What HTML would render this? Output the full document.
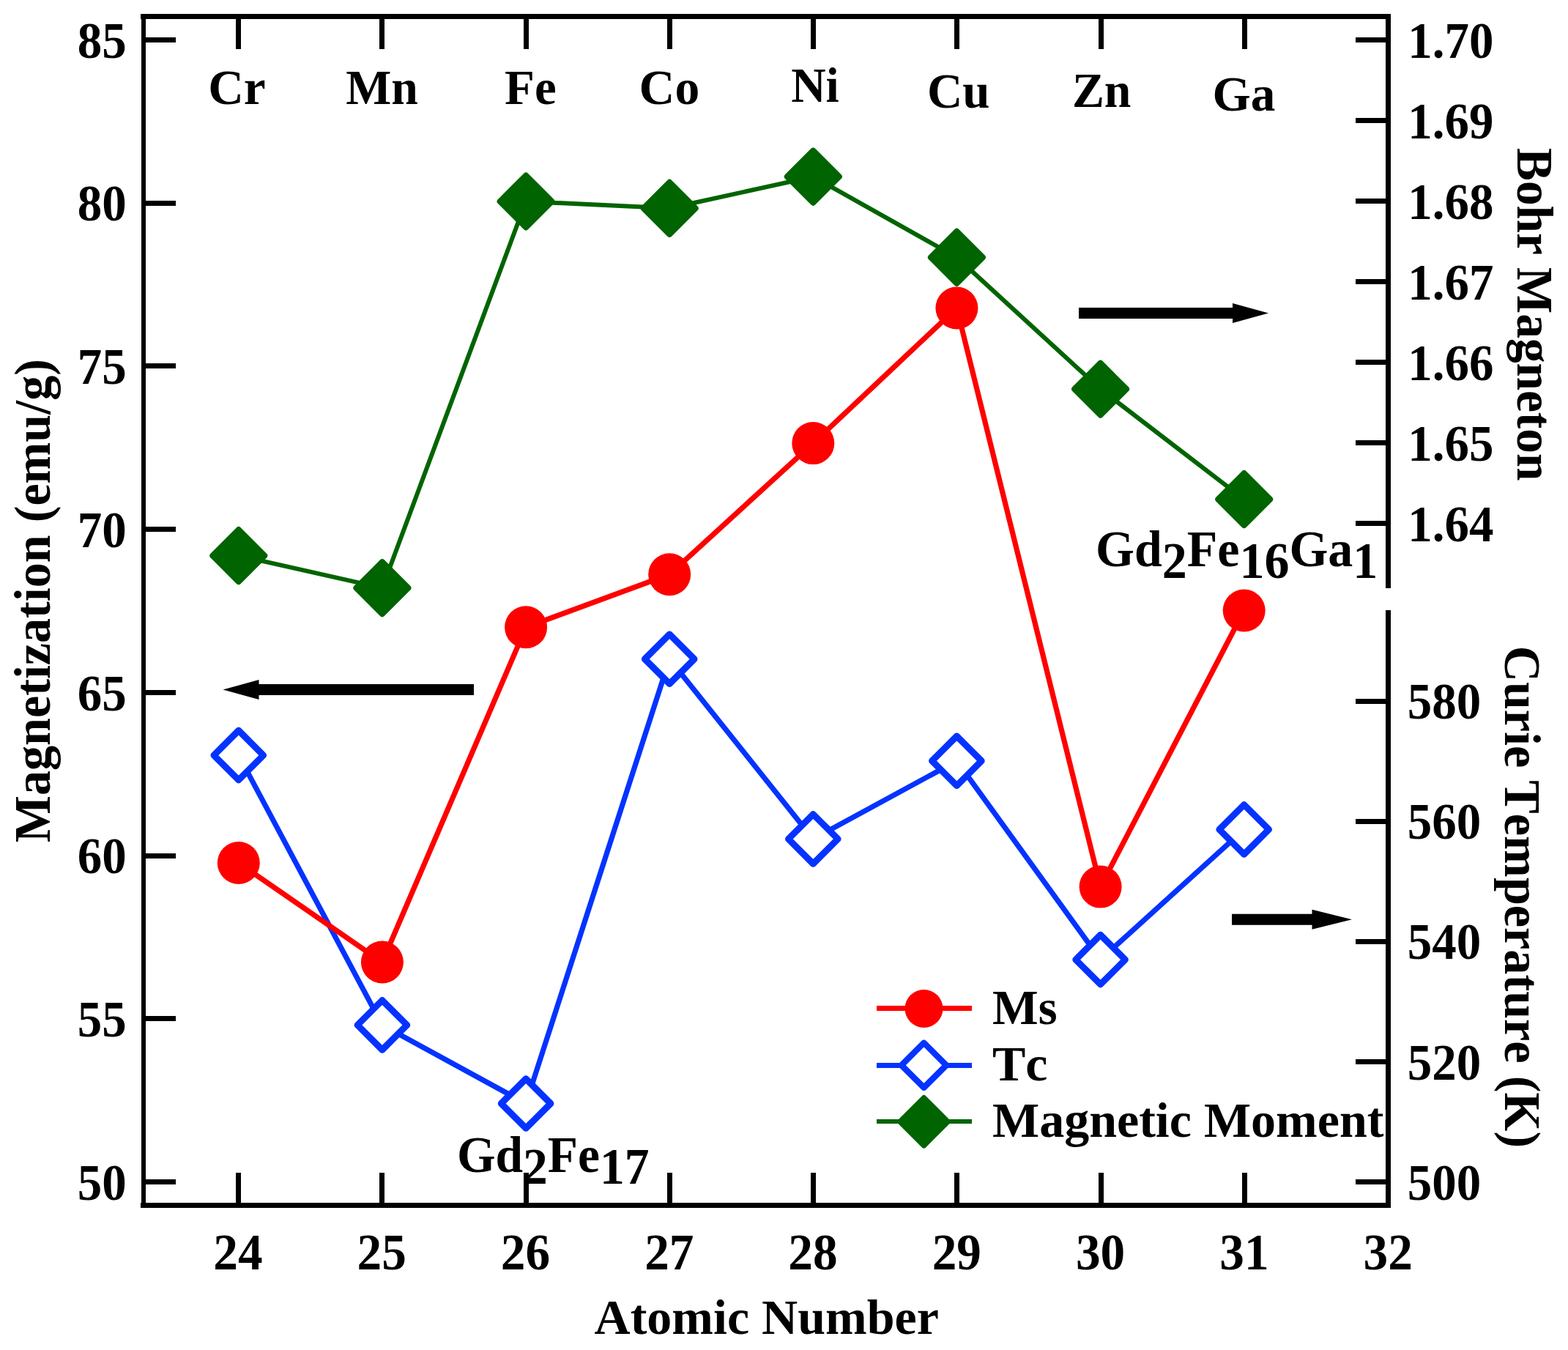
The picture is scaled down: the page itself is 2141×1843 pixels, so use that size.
<!DOCTYPE html>
<html lang="en">
<head>
<meta charset="utf-8">
<title>Magnetization, Curie Temperature and Magnetic Moment vs Atomic Number</title>
<style>
html,body{margin:0;padding:0;background:#ffffff;}
body{width:2141px;height:1843px;overflow:hidden;}
svg{display:block;}
text{white-space:pre;font-kerning:none;}
</style>
</head>
<body>
<svg width="2141" height="1843" viewBox="0 0 2141 1843" font-family="'Liberation Serif', 'Times New Roman', serif" font-weight="bold" font-size="68px">
<rect x="0" y="0" width="2141" height="1843" fill="#ffffff"/>
<g fill="none" stroke-linejoin="round">
<polyline points="325.8,758.6 521.9,802.7 718.1,275.0 914.2,284.3 1110.3,241.2 1306.4,351.3 1502.6,531.2 1698.7,681.6" stroke="#006400" stroke-width="6"/>
<polyline points="325.8,1031.1 521.9,1399.4 718.1,1506.5 914.2,899.7 1110.3,1145.4 1306.4,1038.8 1502.6,1310.1 1698.7,1132.4" stroke="#0433ff" stroke-width="7.2"/>
<polyline points="325.8,1178.0 521.9,1313.5 718.1,856.3 914.2,784.2 1110.3,605.1 1306.4,420.5 1502.6,1210.6 1698.7,833.5" stroke="#ff0000" stroke-width="7.2"/>
</g>
<g>
<path d="M290.3,758.6 L325.8,723.1 L361.3,758.6 L325.8,794.1 Z" fill="#006400" stroke="#006400" stroke-width="8" stroke-linejoin="round"/>
<path d="M486.4,802.7 L521.9,767.2 L557.4,802.7 L521.9,838.2 Z" fill="#006400" stroke="#006400" stroke-width="8" stroke-linejoin="round"/>
<path d="M682.6,275.0 L718.1,239.5 L753.6,275.0 L718.1,310.5 Z" fill="#006400" stroke="#006400" stroke-width="8" stroke-linejoin="round"/>
<path d="M878.7,284.3 L914.2,248.8 L949.7,284.3 L914.2,319.8 Z" fill="#006400" stroke="#006400" stroke-width="8" stroke-linejoin="round"/>
<path d="M1074.8,241.2 L1110.3,205.7 L1145.8,241.2 L1110.3,276.7 Z" fill="#006400" stroke="#006400" stroke-width="8" stroke-linejoin="round"/>
<path d="M1270.9,351.3 L1306.4,315.8 L1341.9,351.3 L1306.4,386.8 Z" fill="#006400" stroke="#006400" stroke-width="8" stroke-linejoin="round"/>
<path d="M1467.1,531.2 L1502.6,495.7 L1538.1,531.2 L1502.6,566.7 Z" fill="#006400" stroke="#006400" stroke-width="8" stroke-linejoin="round"/>
<path d="M1663.2,681.6 L1698.7,646.1 L1734.2,681.6 L1698.7,717.1 Z" fill="#006400" stroke="#006400" stroke-width="8" stroke-linejoin="round"/>
<path d="M292.0,1031.1 L325.8,997.3 L359.6,1031.1 L325.8,1064.9 Z" fill="#ffffff" stroke="#0433ff" stroke-width="9" stroke-linejoin="round"/>
<path d="M488.1,1399.4 L521.9,1365.6 L555.7,1399.4 L521.9,1433.2 Z" fill="#ffffff" stroke="#0433ff" stroke-width="9" stroke-linejoin="round"/>
<path d="M684.3,1506.5 L718.1,1472.7 L751.9,1506.5 L718.1,1540.3 Z" fill="#ffffff" stroke="#0433ff" stroke-width="9" stroke-linejoin="round"/>
<path d="M880.4,899.7 L914.2,865.9 L948.0,899.7 L914.2,933.5 Z" fill="#ffffff" stroke="#0433ff" stroke-width="9" stroke-linejoin="round"/>
<path d="M1076.5,1145.4 L1110.3,1111.6 L1144.1,1145.4 L1110.3,1179.2 Z" fill="#ffffff" stroke="#0433ff" stroke-width="9" stroke-linejoin="round"/>
<path d="M1272.6,1038.8 L1306.4,1005.0 L1340.2,1038.8 L1306.4,1072.6 Z" fill="#ffffff" stroke="#0433ff" stroke-width="9" stroke-linejoin="round"/>
<path d="M1468.8,1310.1 L1502.6,1276.3 L1536.4,1310.1 L1502.6,1343.9 Z" fill="#ffffff" stroke="#0433ff" stroke-width="9" stroke-linejoin="round"/>
<path d="M1664.9,1132.4 L1698.7,1098.6 L1732.5,1132.4 L1698.7,1166.2 Z" fill="#ffffff" stroke="#0433ff" stroke-width="9" stroke-linejoin="round"/>
<circle cx="325.8" cy="1178.0" r="29" fill="#ff0000"/>
<circle cx="521.9" cy="1313.5" r="29" fill="#ff0000"/>
<circle cx="718.1" cy="856.3" r="29" fill="#ff0000"/>
<circle cx="914.2" cy="784.2" r="29" fill="#ff0000"/>
<circle cx="1110.3" cy="605.1" r="29" fill="#ff0000"/>
<circle cx="1306.4" cy="420.5" r="29" fill="#ff0000"/>
<circle cx="1502.6" cy="1210.6" r="29" fill="#ff0000"/>
<circle cx="1698.7" cy="833.5" r="29" fill="#ff0000"/>
</g>
<g fill="#000000" shape-rendering="crispEdges">
<rect x="192" y="19" width="1707" height="7"/>
<rect x="192" y="1642" width="1707" height="7"/>
<rect x="193" y="19" width="6" height="1630"/>
<rect x="1892" y="19" width="7" height="784"/>
<rect x="1892" y="833" width="7" height="816"/>
<rect x="199" y="1610" width="41" height="7"/>
<rect x="199" y="1387" width="41" height="7"/>
<rect x="199" y="1165" width="41" height="7"/>
<rect x="199" y="942" width="41" height="7"/>
<rect x="199" y="719" width="41" height="7"/>
<rect x="199" y="496" width="41" height="7"/>
<rect x="199" y="274" width="41" height="7"/>
<rect x="199" y="51" width="41" height="7"/>
<rect x="322" y="26" width="7" height="41"/>
<rect x="322" y="1601" width="7" height="41"/>
<rect x="518" y="26" width="7" height="41"/>
<rect x="518" y="1601" width="7" height="41"/>
<rect x="715" y="26" width="7" height="41"/>
<rect x="715" y="1601" width="7" height="41"/>
<rect x="911" y="26" width="7" height="41"/>
<rect x="911" y="1601" width="7" height="41"/>
<rect x="1107" y="26" width="7" height="41"/>
<rect x="1107" y="1601" width="7" height="41"/>
<rect x="1303" y="26" width="7" height="41"/>
<rect x="1303" y="1601" width="7" height="41"/>
<rect x="1500" y="26" width="7" height="41"/>
<rect x="1500" y="1601" width="7" height="41"/>
<rect x="1696" y="26" width="7" height="41"/>
<rect x="1696" y="1601" width="7" height="41"/>
<rect x="1851" y="51" width="41" height="7"/>
<rect x="1851" y="161" width="41" height="7"/>
<rect x="1851" y="271" width="41" height="7"/>
<rect x="1851" y="381" width="41" height="7"/>
<rect x="1851" y="491" width="41" height="7"/>
<rect x="1851" y="601" width="41" height="7"/>
<rect x="1851" y="711" width="41" height="7"/>
<rect x="1851" y="954" width="41" height="7"/>
<rect x="1851" y="1118" width="41" height="7"/>
<rect x="1851" y="1282" width="41" height="7"/>
<rect x="1851" y="1446" width="41" height="7"/>
<rect x="1851" y="1610" width="41" height="7"/>
</g>
<path d="M1473,420.0 L1683,420.0 L1683,414.0 L1732,427.5 L1683,441.0 L1683,435.0 L1473,435.0 Z" fill="#000"/>
<path d="M647,933.9 L353.5,933.9 L353.5,927.9 L304.5,941.4 L353.5,954.9 L353.5,948.9 L647,948.9 Z" fill="#000"/>
<path d="M1682,1247.7 L1791.5,1247.7 L1791.5,1241.7 L1846,1255.2 L1791.5,1268.7 L1791.5,1262.7 L1682,1262.7 Z" fill="#000"/>
<g fill="#000000">
<text transform="translate(139.2,1637.6) scale(0.985,1.04)" text-anchor="middle">50</text>
<text transform="translate(139.2,1414.9) scale(0.985,1.04)" text-anchor="middle">55</text>
<text transform="translate(139.2,1192.2) scale(0.985,1.04)" text-anchor="middle">60</text>
<text transform="translate(139.2,969.5) scale(0.985,1.04)" text-anchor="middle">65</text>
<text transform="translate(139.2,746.7) scale(0.985,1.04)" text-anchor="middle">70</text>
<text transform="translate(139.2,524.0) scale(0.985,1.04)" text-anchor="middle">75</text>
<text transform="translate(139.2,301.3) scale(0.985,1.04)" text-anchor="middle">80</text>
<text transform="translate(139.2,78.6) scale(0.985,1.04)" text-anchor="middle">85</text>
<text transform="translate(324.9,1733) scale(0.99,1.04)" text-anchor="middle">24</text>
<text transform="translate(521.1999999999999,1733) scale(0.99,1.04)" text-anchor="middle">25</text>
<text transform="translate(717.5,1733) scale(0.99,1.04)" text-anchor="middle">26</text>
<text transform="translate(913.8,1733) scale(0.99,1.04)" text-anchor="middle">27</text>
<text transform="translate(1110.0,1733) scale(0.99,1.04)" text-anchor="middle">28</text>
<text transform="translate(1306.3000000000002,1733) scale(0.99,1.04)" text-anchor="middle">29</text>
<text transform="translate(1502.6000000000001,1733) scale(0.99,1.04)" text-anchor="middle">30</text>
<text transform="translate(1698.9,1733) scale(0.99,1.04)" text-anchor="middle">31</text>
<text transform="translate(1895.2,1733) scale(0.99,1.04)" text-anchor="middle">32</text>
<text transform="translate(1980.8,78.6) scale(0.985,1.04)" text-anchor="middle">1.70</text>
<text transform="translate(1980.8,188.6) scale(0.985,1.04)" text-anchor="middle">1.69</text>
<text transform="translate(1980.8,298.6) scale(0.985,1.04)" text-anchor="middle">1.68</text>
<text transform="translate(1980.8,408.6) scale(0.985,1.04)" text-anchor="middle">1.67</text>
<text transform="translate(1980.8,518.6) scale(0.985,1.04)" text-anchor="middle">1.66</text>
<text transform="translate(1980.8,628.6) scale(0.985,1.04)" text-anchor="middle">1.65</text>
<text transform="translate(1980.8,738.6) scale(0.985,1.04)" text-anchor="middle">1.64</text>
<text transform="translate(1972,981.2) scale(0.985,1.04)" text-anchor="middle">580</text>
<text transform="translate(1972,1145.3) scale(0.985,1.04)" text-anchor="middle">560</text>
<text transform="translate(1972,1309.4) scale(0.985,1.04)" text-anchor="middle">540</text>
<text transform="translate(1972,1473.5) scale(0.985,1.04)" text-anchor="middle">520</text>
<text transform="translate(1972,1637.6) scale(0.985,1.04)" text-anchor="middle">500</text>
<text transform="translate(323.5,142.3) scale(0.99,1.0)" text-anchor="middle">Cr</text>
<text transform="translate(521.6,142.3) scale(0.967,1.0)" text-anchor="middle">Mn</text>
<text transform="translate(724.4,142) scale(0.985,1.0)" text-anchor="middle">Fe</text>
<text transform="translate(913.9,142) scale(0.995,1.0)" text-anchor="middle">Co</text>
<text transform="translate(1113.0,138.8) scale(0.965,1.0)" text-anchor="middle">Ni</text>
<text transform="translate(1308.7,146.5) scale(0.985,1.0)" text-anchor="middle">Cu</text>
<text transform="translate(1504.1,145.8) scale(0.967,1.0)" text-anchor="middle">Zn</text>
<text transform="translate(1698.3,150.5) scale(0.988,1.0)" text-anchor="middle">Ga</text>
<text transform="translate(1046.7,1820.7) scale(1,1.0)" text-anchor="middle">Atomic Number</text>
<text transform="translate(67.6,820.2) rotate(-90) scale(1.002,1.015)" text-anchor="middle">Magnetization (emu/g)</text>
<text transform="translate(2072,429.2) rotate(90) scale(0.99,1.02)" text-anchor="middle">Bohr Magneton</text>
<text transform="translate(2055.4,1224.4) rotate(90) scale(1.003,1.02)" text-anchor="middle">Curie Temperature (K)</text>
<text transform="translate(1496,773.3) scale(1,1.03)" text-anchor="start">Gd<tspan dy="15.53">2</tspan><tspan dy="-15.53">Fe</tspan><tspan dy="15.53">16</tspan><tspan dy="-15.53">Ga</tspan><tspan dy="15.53">1</tspan></text>
<text transform="translate(624,1599.6) scale(0.993,1.03)" text-anchor="start">Gd<tspan dy="15.53">2</tspan><tspan dy="-15.53">Fe</tspan><tspan dy="15.53">17</tspan></text>
</g>
<g>
<line x1="1197" x2="1327" y1="1376.5" y2="1376.5" stroke="#ff0000" stroke-width="7"/>
<circle cx="1261.5" cy="1376.9" r="26" fill="#ff0000"/>
<line x1="1197" x2="1327" y1="1454.5" y2="1454.5" stroke="#0433ff" stroke-width="7"/>
<path d="M1230.9,1454.2 L1261.5,1423.6 L1292.1,1454.2 L1261.5,1484.8 Z" fill="#fff" stroke="#0433ff" stroke-width="8.4" stroke-linejoin="round"/>
<line x1="1197" x2="1327" y1="1531" y2="1531" stroke="#006400" stroke-width="6"/>
<path d="M1229.0,1531.3 L1261.5,1498.8 L1294.0,1531.3 L1261.5,1563.8 Z" fill="#006400" stroke="#006400" stroke-width="7.5" stroke-linejoin="round"/>
<g fill="#000">
<text transform="translate(1355,1397.8) scale(0.977,1.0)" text-anchor="start">Ms</text>
<text transform="translate(1355,1475) scale(1,1.0)" text-anchor="start">Tc</text>
<text transform="translate(1355,1552) scale(1,1.0)" text-anchor="start">Magnetic Moment</text>
</g>
</g>
</svg>
</body>
</html>
